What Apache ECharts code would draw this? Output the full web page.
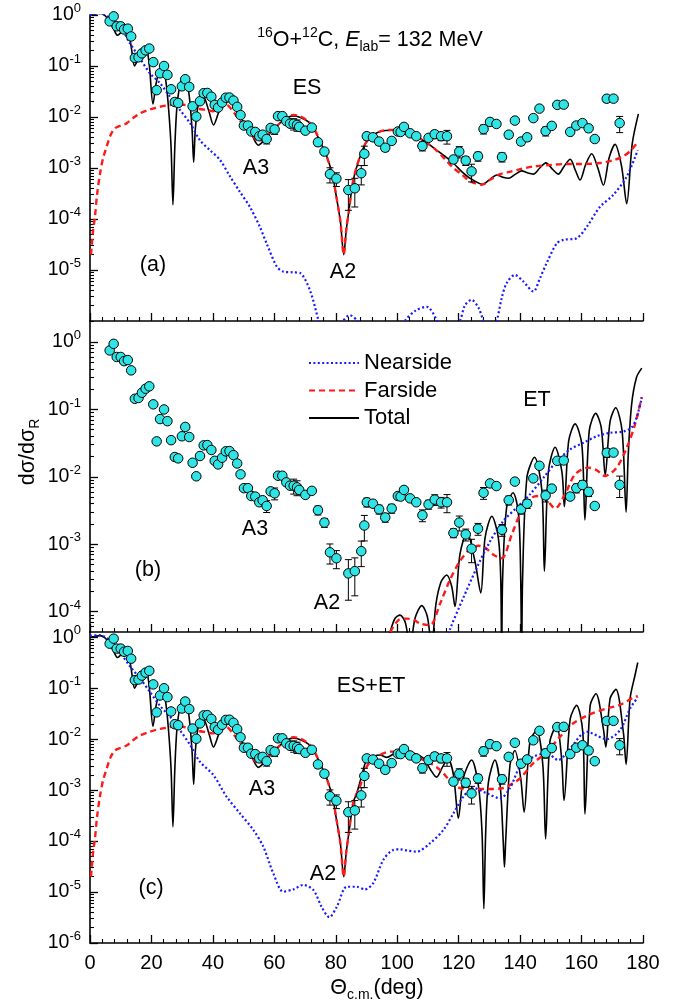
<!DOCTYPE html>
<html>
<head>
<meta charset="utf-8">
<script src="https://cdn.jsdelivr.net/npm/echarts@6/dist/echarts.min.js"></script>
<style>
  html, body { margin: 0; padding: 0; background: #fff; }
  #chart { width: 687px; height: 1004px; }
</style>
</head>
<body>
<div id="chart"></div>
<script>
// ---------- measured elastic data: angle (deg), dσ/dσR, relative error ----------
const expTheta = [6.4,7.7,8.7,10.0,11.1,12.3,13.4,14.6,15.8,16.9,
  18.1,19.3,20.6,21.7,22.8,24.1,25.2,26.4,27.6,28.7,
  29.9,31.0,32.3,33.4,34.6,35.8,37.0,38.2,39.5,40.6,
  41.7,43.0,44.2,45.4,46.7,47.9,49.0,50.1,51.4,52.5,
  53.8,55.1,56.2,57.5,58.8,60.1,61.2,62.6,63.9,65.1,
  66.3,67.4,68.1,70.1,72.2,74.2,76.3,78.1,80.2,84.1,
  86.2,88.3,89.3,90.1,92.1,94.1,96.1,98.2,100.2,101.1,
  102.2,104.2,106.2,108.2,110.2,112.2,114.3,116.2,118.3,120.2,
  122.3,124.2,126.3,128.1,130.2,132.3,134.1,136.3,138.3,140.3,
  142.3,144.3,146.3,148.3,150.3,152.1,154.2,156.3,158.3,160.3,
  162.3,164.3,168.2,170.4,172.4];
const expRatio = [0.75,0.94,0.60,0.60,0.52,0.54,0.38,0.144,0.148,0.177,
  0.203,0.22,0.119,0.0336,0.072,0.100,0.067,0.035,0.0197,0.0188,
  0.040,0.055,0.039,0.0162,0.0102,0.0204,0.0293,0.0296,0.025,0.0173,
  0.0153,0.0192,0.0239,0.0241,0.021,0.0158,0.0109,0.0068,0.0068,0.0052,
  0.0051,0.0042,0.0045,0.0037,0.0061,0.0057,0.0104,0.0104,0.0083,0.0074,
  0.0074,0.0070,0.0064,0.0054,0.0062,0.0032,0.0021,0.00076,0.00062,0.00037,
  0.00040,0.00079,0.0019,0.0042,0.0040,0.0033,0.0025,0.0034,0.0052,0.0051,
  0.0064,0.0048,0.0042,0.0027,0.0039,0.0046,0.0042,0.0042,0.00147,0.0021,
  0.0014,0.00086,0.0017,0.0058,0.0080,0.0073,0.00164,0.0045,0.0085,0.0033,
  0.0040,0.0095,0.0146,0.0053,0.0067,0.0173,0.0175,0.0051,0.0068,0.0076,
  0.0060,0.0037,0.0228,0.0229,0.0076];
const expErr = [0,0,0,0,0,0,0,0,0,0,
  0,0,0,0,0,0,0,0,0,0,
  0,0,0,0,0,0,0,0,0,0,
  0,0,0,0,0,0,0,0,0,0,
  0,0,0,0.2,0,0.2,0,0,0,0,
  0.25,0.25,0,0,0,0.15,0.15,0.33,0.3,0.6,
  0.57,0.41,0.41,0.15,0,0.15,0.15,0.15,0.1,0.1,
  0,0,0,0.2,0.15,0.18,0.18,0.3,0.15,0.25,
  0.2,0.38,0.2,0.2,0,0,0.2,0.15,0,0.15,
  0.15,0,0,0.2,0,0,0,0,0.15,0.15,
  0.15,0,0.15,0,0.35];

// ---------- (a) elastic scattering (ES) calculation ----------
const esTotal = [[0,1.0],[1.5,1.04],[3.2,1.08],[4.8,0.98],[6,0.8],[7.5,0.56],[9.0,0.4],[10.3,0.47],[11.6,0.55],[12.6,0.45],
  [13.5,0.22],[14.5,0.1],[15.5,0.13],[16.8,0.2],[18.1,0.23],[19.2,0.12],[20.5,0.018],[21.5,0.045],[22.6,0.08],[23.7,0.092],
  [24.7,0.05],[25.6,0.014],[26.4,0.0025],[27.0,1.9e-4],[27.6,0.0025],[28.3,0.016],[29.4,0.045],[30.7,0.062],[32.1,0.032],[33.2,0.006],
  [33.75,1.3e-3],[34.3,0.006],[35.3,0.018],[36.8,0.026],[38.7,0.013],[40.2,0.007],[41.8,0.012],[43.2,0.02],[44.6,0.024],[46.5,0.018],
  [48.7,0.0105],[50.5,0.0072],[52.5,0.0047],[54.8,0.0028],[56.3,0.0033],[58,0.0044],[60,0.0058],[61.7,0.0075],[64,0.0095],[66.1,0.0105],
  [68.5,0.0098],[71,0.0081],[72.7,0.006],[74.2,0.0041],[76,0.0024],[77.5,0.00144],[79,7e-4],[80.2,2.7e-4],[81.5,9e-5],[82.6,2e-5],
  [83.4,6e-5],[84.3,1.5e-4],[85.7,5.8e-4],[87.9,1.67e-3],[90.1,3.3e-3],[94.4,5.2e-3],[99,5.5e-3],[103,5e-3],[106.3,4.1e-3],[110,3e-3],
  [112.8,2.25e-3],[115.5,1.7e-3],[118.3,1.24e-3],[121,8.5e-4],[123.7,6.3e-4],[127.8,4.8e-4],[130.2,6e-4],[132.4,7.3e-4],[134.4,6.6e-4],[136.2,6.3e-4],
  [138.4,7.5e-4],[140.5,8.8e-4],[142.5,8e-4],[144.3,7.6e-4],[146.4,1.0e-3],[148.4,1.26e-3],[150.5,9.5e-4],[152.4,7.6e-4],[154.4,1.1e-3],[156.3,1.48e-3],
  [158,9e-4],[159.5,5.8e-4],[161.4,1.2e-3],[163.3,1.9e-3],[165.3,1.0e-3],[167.1,4.6e-4],[169,1.6e-3],[170.9,2.9e-3],[173,1.1e-3],[174.7,2e-4],
  [176.5,3e-3],[178.5,0.0115]];
const esFar = [[0.3,2e-5],[0.6,3.1e-5],[1.0,6e-5],[1.6,1.1e-4],[2.3,3e-4],[3.3,8e-4],[4.3,1.6e-3],[5.4,2.6e-3],[6.6,4.3e-3],[8.1,6e-3],
  [10,6.8e-3],[11.9,7.5e-3],[14,9.5e-3],[16.3,0.0118],[19.5,0.014],[22.8,0.0159],[25.5,0.017],[28.2,0.0178],[31,0.0172],[33.6,0.016],
  [35.5,0.0145],[38,0.0137],[40,0.013],[42.5,0.0155],[44.5,0.0172],[46.5,0.013],[48.8,0.0085],[51,0.0058],[53,0.0042],[54.8,0.0034],
  [56.5,0.0036],[58,0.0045],[60,0.0058],[62,0.0078],[64,0.0098],[66.3,0.011],[68.5,0.0102],[71,0.0083],[72.7,0.0062],[74.2,0.0042],
  [76,0.0024],[77.5,0.0014],[79,7e-4],[80.2,2.7e-4],[81.5,9e-5],[82.6,2e-5],[83.4,6e-5],[84.3,1.5e-4],[85.7,5.8e-4],[87.9,1.7e-3],
  [90.1,3.3e-3],[94.4,5.2e-3],[99,5.6e-3],[103,5.1e-3],[106.3,4.2e-3],[110,3e-3],[112.8,2.2e-3],[115.5,1.5e-3],[118.3,1.0e-3],[121,7.5e-4],
  [123.7,5.5e-4],[127.5,4.7e-4],[130.5,6e-4],[133.5,7.6e-4],[137,8.5e-4],[140,9.5e-4],[144.3,1.07e-3],[150,1.15e-3],[155.2,1.2e-3],[160,1.2e-3],
  [166,1.25e-3],[170,1.4e-3],[173.6,1.7e-3],[176,2.2e-3],[178,3.05e-3]];
const esNear = [[0,1.0],[3.3,1.08],[6.5,0.86],[9.8,0.59],[13,0.28],[16.3,0.14],[19.5,0.072],[22.8,0.046],[26,0.025],[29.3,0.0137],
  [32.6,0.0075],[35.8,0.0035],[39,0.00225],[42.3,0.00144],[45.6,6.8e-4],[48.8,3.4e-4],[52.1,1.7e-4],[55.3,7e-5],[57.5,3.3e-5],[60.8,1.17e-5],
  [62.9,9.3e-6],[66,9e-6],[68.4,8.7e-6],[71.6,4e-6],[74.3,1.05e-6],[76,4e-7],[80,5e-7],[82.4,1e-6],[84.5,1.3e-6],[87,1e-6],
  [90,4e-7],[98,3e-7],[102.5,1e-6],[106,1.6e-6],[109.6,1.9e-6],[113,1e-6],[116,4e-7],[120.4,1e-6],[122,2e-6],[124.2,2.6e-6],
  [126.5,1.8e-6],[128,1e-6],[130,4e-7],[132.4,1e-6],[134,2.8e-6],[135.6,5.5e-6],[138.3,8e-6],[141,6e-6],[144.3,3.8e-6],[146.5,7e-6],
  [148.6,1.35e-5],[151.9,3.3e-5],[154.1,3.9e-5],[158.4,4.2e-5],[161.7,7e-5],[166,1.74e-4],[170.3,2.95e-4],[174.7,6.8e-4],[178.3,2.25e-3]];

// ---------- (b) elastic alpha transfer (ET) calculation ----------
const etTotal = [[95.5,2e-5],[97.7,5e-5],[99.3,8e-5],[100.9,8.9e-5],[102.6,7e-5],[104.2,3e-5],[105.8,8e-5],[108,1.23e-4],[109.8,8.5e-5],[111.2,3e-5],
  [112.6,1.3e-4],[114.3,2.8e-4],[116.1,3.5e-4],[117.7,2.4e-4],[118.8,1.2e-4],[120.4,7e-4],[122.7,1.52e-3],[125.3,5.6e-4],[127.2,1.9e-4],[128.6,1.26e-3],
  [130.8,2.6e-3],[132.9,1.26e-3],[133.7,3e-4],[134.0,1.5e-5],[134.3,3e-4],[135.6,3.5e-3],[137.7,5.8e-3],[139.5,2.8e-3],[140.2,3e-4],[140.5,1.5e-5],
  [140.8,3e-4],[142.2,9.7e-3],[144.7,0.0195],[147.1,6.2e-3],[147.9,4e-4],[149.2,0.012],[151.4,0.0275],[153.6,0.012],[154.4,3.6e-3],[155.8,0.034],
  [157.9,0.061],[160.1,0.03],[161.1,2.3e-3],[162.5,0.048],[164.6,0.0875],[166.4,0.054],[167.7,0.0106],[169.3,0.067],[171.1,0.106],[173.2,0.048],
  [174.5,3e-3],[175.2,0.0215],[176.3,0.119],[177.9,0.3],[179.6,0.41]];
const etFar = [[97.7,5e-5],[100.4,7.5e-5],[103.1,7.9e-5],[105.5,7.5e-5],[107.4,6.7e-5],[110.7,6.3e-5],[113.9,1.3e-4],[117.2,3e-4],[120.4,5.6e-4],[123.7,8.5e-4],
  [126.5,9.5e-4],[128.5,9e-4],[131.3,7e-4],[134,6.2e-4],[137.3,1.4e-3],[140,2.8e-3],[143.8,4.9e-3],[146,5.2e-3],[148.1,4.9e-3],[151.4,3.4e-3],
  [154.6,5.5e-3],[157.9,0.0109],[162.2,0.0137],[165,0.0125],[167.6,0.0103],[171.4,0.0137],[174.7,0.027],[177.4,0.06],[179.6,0.153]];
const etNear = [[115.5,3e-5],[117.2,5.5e-5],[121.5,1.6e-4],[125.9,4.5e-4],[130.2,1.1e-3],[134.5,2.2e-3],[138.9,3.5e-3],[143.2,5.5e-3],[147.6,9.7e-3],[151.9,0.017],
  [156.3,0.0256],[160.6,0.032],[164.9,0.04],[169.3,0.045],[173.6,0.047],[176.3,0.054],[177.9,0.075],[179.6,0.15]];

// ---------- (c) coherent ES+ET calculation (forward angles coincide with ES) ----------
const sumTotalBack = [[86.8,8.6e-4],[88.2,1.7e-3],[90.1,4.0e-3],[92.2,4.6e-3],[94.4,4.9e-3],[96.6,4.4e-3],[99,5.2e-3],[102,6e-3],[105,5.4e-3],[108.4,4.3e-3],
  [110.7,2.6e-3],[112.8,1.8e-3],[114.8,2.9e-3],[116.5,4.1e-3],[118.3,2e-3],[119.9,2.8e-4],[121.5,1.7e-3],[124.2,3.9e-3],[126.4,1.25e-3],[127.6,1.5e-4],
  [128.2,4.7e-6],[128.8,1.5e-4],[129.7,1.45e-3],[131.8,3.9e-3],[133.5,1.25e-3],[134.5,1e-4],[134.9,3.1e-5],[135.3,1e-4],[136.7,3.1e-3],[138.3,6e-3],
  [140.2,1.7e-3],[141.3,3.7e-4],[143.2,8.9e-3],[145.4,0.015],[147.4,3.1e-3],[148.3,1.1e-4],[149.7,8.9e-3],[151.9,0.0187],[153.5,4.2e-3],[154.3,6.3e-4],
  [156.3,0.025],[158.4,0.046],[160.4,0.0138],[161.1,3.4e-4],[162.8,0.046],[164.7,0.078],[167.1,0.016],[167.9,7e-3],[169.3,0.063],[171.2,0.095],
  [173.6,0.0138],[174.5,3.2e-3],[175.8,0.063],[177.4,0.18],[178.3,0.32]];
const sumFarBack = [[87.9,1.2e-3],[90.1,2.9e-3],[93.3,4.5e-3],[97.7,5.7e-3],[102,5.7e-3],[105,5e-3],[107.4,4.2e-3],[110.7,3.4e-3],[113.9,2.5e-3],[116.5,1.7e-3],
  [118.3,1.3e-3],[120.5,1.1e-3],[124.2,1.05e-3],[129.1,1.05e-3],[134.5,1.1e-3],[137.5,1.35e-3],[140,1.7e-3],[144.3,3.4e-3],[148.6,5.5e-3],[153,0.0112],
  [157.3,0.0205],[162.8,0.031],[168.2,0.04],[172.5,0.047],[176.9,0.066],[178.3,0.07]];
const sumNear = [[0,1.08],[3.3,1.1],[6.5,0.86],[9.8,0.5],[13,0.27],[16.3,0.155],[19.5,0.085],[22.8,0.045],[26,0.028],[29.3,0.015],
  [32.6,0.0077],[35.8,0.0036],[40.1,0.002],[44.5,7.4e-4],[48.8,3.5e-4],[53.2,1.65e-4],[56.4,7.8e-5],[59.7,2.3e-5],[62.9,1.02e-5],[66.2,1.13e-5],
  [69.4,1.38e-5],[72.7,1.1e-5],[75.4,5.1e-6],[77.9,3.2e-6],[80.3,5.1e-6],[83.6,1.27e-5],[86.8,1.27e-5],[89.5,1.13e-5],[92.2,1.5e-5],[95.5,4.3e-5],
  [98.7,6.7e-5],[100.9,6.9e-5],[103.5,6.5e-5],[106.3,6.2e-5],[110.7,9.1e-5],[115,1.65e-4],[118.3,3.5e-4],[121.5,7.4e-4],[124.8,1.1e-3],[129.1,8.7e-4],
  [133.5,6.9e-4],[136.7,1.1e-3],[140,2.9e-3],[144.3,4.5e-3],[148.6,5.3e-3],[152.4,3.9e-3],[156.3,6.6e-3],[161.7,0.014],[168.2,0.01],[172.5,0.015],
  [175.8,0.04],[178.3,0.066]];
const sumTotal = esTotal.filter(p => p[0] < 86).concat(sumTotalBack);
const sumFar = esFar.filter(p => p[0] < 86).concat(sumFarBack);

// ---------- axes: ranges and tick labels ----------
const xTickStep = 20;
const yRanges = [[1e-6, 1], [5e-5, 2.05], [1e-6, 1.27]];
const yDecades = [
  [1, 1e-1, 1e-2, 1e-3, 1e-4, 1e-5],
  [1, 1e-1, 1e-2, 1e-3, 1e-4],
  [1, 1e-1, 1e-2, 1e-3, 1e-4, 1e-5, 1e-6]
];

const FONT = '"Liberation Sans", Arial, Helvetica, sans-serif';
const BLUE = '#1a1aff', RED = '#ff1a1a', CYAN = '#2fe4e4';

function minorValues(range) {
  const out = [];
  for (let e = -7; e <= 1; e++) {
    for (let k = 2; k <= 9; k++) {
      const v = k * Math.pow(10, e);
      if (v > range[0] && v < range[1]) out.push(v);
    }
  }
  return out;
}

const decadeRich = {
  b: { fontSize: 19.5, fontFamily: FONT, color: '#000', lineHeight: 26 },
  s: { fontSize: 13, fontFamily: FONT, color: '#000', lineHeight: 13, verticalAlign: 'top' }
};
function decadeLabel(v) {
  const e = Math.round(Math.log10(v));
  return '{b|10}{s|' + e + '}';
}

const grids = [
  { left: 90, top: 15, width: 553, height: 306 },
  { left: 90, top: 321, width: 553, height: 311 },
  { left: 90, top: 632, width: 553, height: 311 }
].map(g => Object.assign({ containLabel: false, outerBoundsMode: 'none' }, g));

const xAxes = [0, 1, 2].map(i => ({
  type: 'value', gridIndex: i, min: 0, max: 180, interval: xTickStep, position: 'bottom',
  axisLine: { show: true, onZero: false, lineStyle: { color: '#000', width: 1.6 } },
  axisTick: { show: true, inside: true, length: 8, lineStyle: { color: '#000', width: 1.3 } },
  minorTick: { show: true, splitNumber: 5, length: 4, lineStyle: { color: '#000', width: 1.1 } },
  axisLabel: { show: i === 2, fontSize: 20, fontFamily: FONT, color: '#000', margin: 10 },
  splitLine: { show: false }, minorSplitLine: { show: false }
}));

const yAxes = [];
[0, 1, 2].forEach(i => {
  yAxes.push({
    type: 'log', logBase: 10, gridIndex: i, min: yRanges[i][0], max: yRanges[i][1], position: 'left',
    axisLine: { show: true, onZero: false, lineStyle: { color: '#000', width: 1.6 } },
    axisTick: { show: true, inside: true, length: 8, customValues: yDecades[i], lineStyle: { color: '#000', width: 1.3 } },
    axisLabel: { show: true, customValues: yDecades[i], formatter: decadeLabel, rich: decadeRich, margin: 9 },
    splitLine: { show: false }
  });
  yAxes.push({
    type: 'log', logBase: 10, gridIndex: i, min: yRanges[i][0], max: yRanges[i][1], position: 'left',
    axisLine: { show: false },
    axisTick: { show: true, inside: true, length: 4, customValues: minorValues(yRanges[i]), lineStyle: { color: '#000', width: 1.1 } },
    axisLabel: { show: false },
    splitLine: { show: false }
  });
});

const expPoints = expTheta.map((t, k) => [t, expRatio[k], expErr[k]]);

function curve(name, data, panel) {
  const styles = {
    Total: { color: '#000', width: 1.6, type: 'solid' },
    Farside: { color: RED, width: 2.4, type: [6, 4] },
    Nearside: { color: BLUE, width: 2.2, type: [2, 2.4] }
  };
  return {
    type: 'line', name, data, xAxisIndex: panel, yAxisIndex: panel * 2,
    symbol: 'none', smooth: 0.3, clip: true, z: name === 'Total' ? 2 : 3,
    lineStyle: styles[name], itemStyle: { color: styles[name].color },
    emphasis: { disabled: true }, silent: true
  };
}

function errorBars(panel) {
  return {
    type: 'custom', xAxisIndex: panel, yAxisIndex: panel * 2, z: 4, silent: true, clip: true,
    data: expPoints.filter(p => p[2] > 0),
    renderItem: (params, api) => {
      const x = api.value(0), v = api.value(1), e = api.value(2);
      const hi = api.coord([x, v * (1 + e)]);
      const lo = api.coord([x, v * (1 - e)]);
      const w = 3.5;
      const st = { stroke: '#000', lineWidth: 1 };
      return {
        type: 'group', children: [
          { type: 'line', shape: { x1: hi[0], y1: hi[1], x2: lo[0], y2: lo[1] }, style: st },
          { type: 'line', shape: { x1: hi[0] - w, y1: hi[1], x2: hi[0] + w, y2: hi[1] }, style: st },
          { type: 'line', shape: { x1: lo[0] - w, y1: lo[1], x2: lo[0] + w, y2: lo[1] }, style: st }
        ]
      };
    }
  };
}

function points(panel) {
  return {
    type: 'scatter', xAxisIndex: panel, yAxisIndex: panel * 2, z: 5, silent: true,
    data: expPoints.map(p => [p[0], p[1]]),
    symbol: 'circle', symbolSize: 9.5,
    itemStyle: { color: CYAN, borderColor: '#000', borderWidth: 1, opacity: 1 }
  };
}

const series = [
  curve('Total', esTotal, 0), curve('Farside', esFar, 0), curve('Nearside', esNear, 0),
  errorBars(0), points(0),
  curve('Total', etTotal, 1), curve('Farside', etFar, 1), curve('Nearside', etNear, 1),
  errorBars(1), points(1),
  curve('Total', sumTotal, 2), curve('Farside', sumFar, 2), curve('Nearside', sumNear, 2),
  errorBars(2), points(2)
];

const textBase = { fontFamily: FONT, fontSize: 21.5, fill: '#000', align: 'center', verticalAlign: 'middle' };
function note(text, x, y, extra, rotation) {
  return { type: 'text', x, y, rotation: rotation || 0, silent: true, z: 10,
    style: Object.assign({ text }, textBase, extra || {}) };
}
const supSub = {
  n: { fontFamily: FONT, fontSize: 21.5, lineHeight: 28, fill: '#000' },
  it: { fontFamily: FONT, fontSize: 21.5, lineHeight: 28, fontStyle: 'italic', fill: '#000' },
  sup: { fontFamily: FONT, fontSize: 14, lineHeight: 14, verticalAlign: 'top', fill: '#000' },
  sub: { fontFamily: FONT, fontSize: 14, lineHeight: 14, verticalAlign: 'bottom', fill: '#000' }
};

const graphics = [
  note('{sup|16}{n|O+}{sup|12}{n|C, }{it|E}{sub|lab}{n|= 132 MeV}', 370, 40, { rich: supSub }),
  note('ES', 307, 88), note('A3', 256, 168), note('A2', 343, 272), note('(a)', 153, 265),
  note('ET', 537, 400), note('A3', 255, 529), note('A2', 327, 603), note('(b)', 148, 570),
  note('ES+ET', 371, 686), note('A3', 262, 789), note('A2', 323, 874), note('(c)', 151, 888),
  note('{n|dσ/dσ}{sub|R}', 28, 452, { rich: supSub }, Math.PI / 2),
  note('{n|Θ}{sub|c.m.}{n|(deg)}', 377, 988, { rich: supSub })
];

const chart = echarts.init(document.getElementById('chart'), null, { renderer: 'canvas' });
chart.setOption({
  animation: false,
  backgroundColor: '#fff',
  textStyle: { fontFamily: FONT },
  grid: grids,
  xAxis: xAxes,
  yAxis: yAxes,
  legend: {
    data: ['Nearside', 'Farside', 'Total'],
    orient: 'vertical', left: 308, top: 352, padding: 0,
    itemWidth: 50, itemHeight: 14, itemGap: 5.5, selectedMode: false,
    itemStyle: { color: 'rgba(0,0,0,0)', borderColor: 'rgba(0,0,0,0)', borderWidth: 0 },
    textStyle: { fontSize: 22, fontFamily: FONT, color: '#000', lineHeight: 22 }
  },
  series,
  graphic: { elements: graphics }
});
</script>
</body>
</html>
